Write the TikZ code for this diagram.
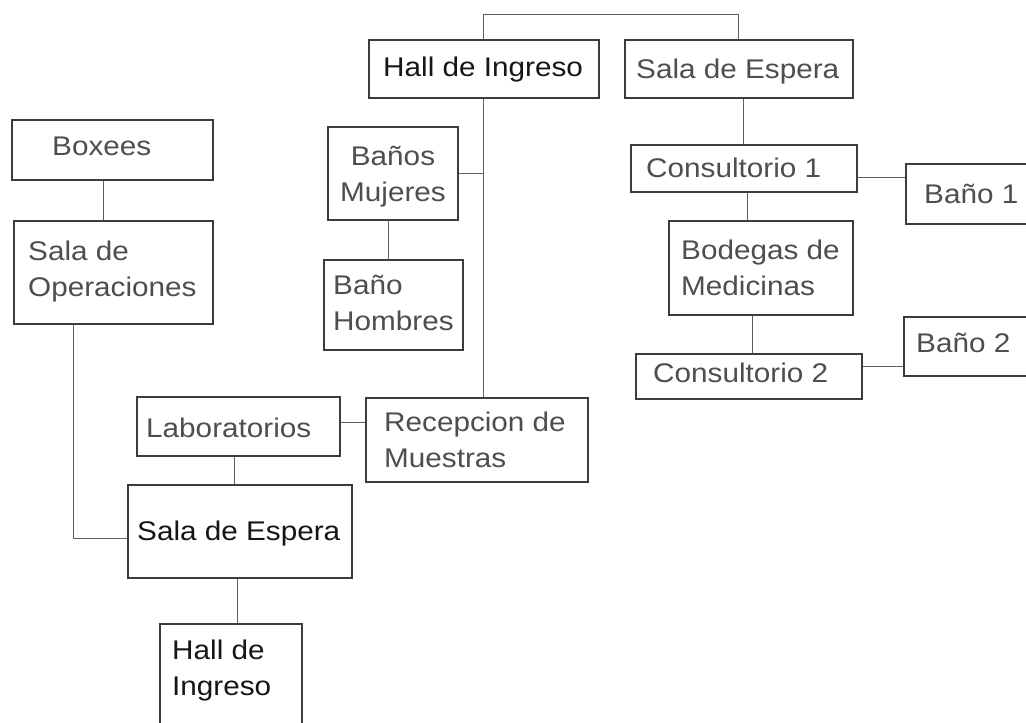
\documentclass[tikz,border=0pt]{standalone}
\usepackage{fontspec}
\newfontfamily\lsans{Liberation Sans}[FakeStretch=1.1]
\definecolor{boxline}{HTML}{3C3C3C}
\definecolor{connline}{HTML}{5E5E5E}
\definecolor{txtgray}{HTML}{4E4E4E}
\definecolor{txtblack}{HTML}{161616}
\newcommand{\twoleft}[2]{\vtop{\baselineskip=36pt\hbox{#1}\hbox{#2}}}
\newcommand{\twocent}[2]{\vtop{\baselineskip=36pt\halign{\hfil##\hfil\cr #1\cr #2\cr}}}
\tikzset{
  box/.style={draw=boxline, line width=1.6pt, rectangle, inner sep=0pt, anchor=north west},
  conn/.style={draw=connline, line width=0.9pt},
  txt/.style={inner sep=0pt, anchor=base west, text=txtgray, font=\lsans\fontsize{27}{36}\selectfont},
  txtb/.style={txt, text=txtblack},
}
\begin{document}
\begin{tikzpicture}[x=1pt,y=-1pt]
\useasboundingbox (0,0) rectangle (1026,723);
\clip (0,0) rectangle (1026,723);
\fill[white] (0,0) rectangle (1026,723);
% boxes
\node[box, minimum width=230pt, minimum height=58pt] (hallA) at (368,39) {};
\node[box, minimum width=228pt, minimum height=58pt] (salaA) at (624,39) {};
\node[box, minimum width=201pt, minimum height=60pt] (boxees) at (11,119) {};
\node[box, minimum width=199pt, minimum height=103pt] (salaOp) at (13,220) {};
\node[box, minimum width=130pt, minimum height=93pt] (muj) at (327,126) {};
\node[box, minimum width=139pt, minimum height=90pt] (hom) at (323,259) {};
\node[box, minimum width=226pt, minimum height=47pt] (cons1) at (630,144) {};
\node[box, minimum width=135pt, minimum height=60pt] (b1) at (905,163) {};
\node[box, minimum width=184pt, minimum height=94pt] (bod) at (668,220) {};
\node[box, minimum width=226pt, minimum height=45pt] (cons2) at (635,353) {};
\node[box, minimum width=137pt, minimum height=59pt] (b2) at (903,316) {};
\node[box, minimum width=203pt, minimum height=59pt] (lab) at (136,396) {};
\node[box, minimum width=222pt, minimum height=84pt] (recep) at (365,397) {};
\node[box, minimum width=224pt, minimum height=93pt] (salaB) at (127,484) {};
\node[box, minimum width=142pt, minimum height=122pt] (hallB) at (159,623) {};
% texts
\node[txtb] (tHallA) at (383,76) {Hall de Ingreso};
\node[txt] (tSalaA) at (636,78) {Sala de Espera};
\node[txt] (tBoxees) at (52,155) {Boxees};
\node[txt] (tSalaOp) at (28,260) {\twoleft{Sala de}{Operaciones}};
\node[txt] (tMuj) at (340,165) {\twocent{Baños}{Mujeres}};
\node[txt] (tHom) at (333,294) {\twoleft{Baño}{Hombres}};
\node[txt] (tCons1) at (646,177) {Consultorio 1};
\node[txt] (tB1) at (924,203) {Baño 1};
\node[txt] (tBod) at (681,259) {\twoleft{Bodegas de}{Medicinas}};
\node[txt] (tCons2) at (653,382) {Consultorio 2};
\node[txt] (tB2) at (916,352) {Baño 2};
\node[txt] (tLab) at (146,437) {Laboratorios};
\node[txt] (tRecep) at (384,431) {\twoleft{Recepcion de}{Muestras}};
\node[txtb] (tSalaB) at (137,540) {Sala de Espera};
\node[txtb] (tHallB) at (172,659) {\twoleft{Hall de}{Ingreso}};
% connectors
\draw[conn] (hallA.north) -- ++(0,-25) -| (salaA.north);
\draw[conn] (hallA.south) -- (hallA.south |- recep.north);
\draw[conn] (muj.east) -- (muj.east -| hallA.south);
\draw[conn] ([xshift=-4pt]muj.south) -- ([xshift=-4pt]muj.south |- hom.north);
\draw[conn] ([yshift=3.5pt]lab.east) -- ([yshift=3.5pt]lab.east -| recep.west);
\draw[conn] ([xshift=-3.5pt]lab.south) -- ([xshift=-3.5pt]lab.south |- salaB.north);
\draw[conn] ([xshift=-2pt]salaB.south) -- ([xshift=-2pt]salaB.south |- hallB.north);
\draw[conn] ([xshift=-8.5pt]boxees.south) -- ([xshift=-8.5pt]boxees.south |- salaOp.north);
\draw[conn] ([xshift=-39.5pt]salaOp.south) |- ([yshift=-7.5pt]salaB.west);
\draw[conn] (cons1.north |- salaA.south) -- (cons1.north);
\draw[conn] ([yshift=-9.5pt]cons1.east) -- ([yshift=-9.5pt]cons1.east -| b1.west);
\draw[conn] ([xshift=4pt]cons1.south) -- ([xshift=4pt]cons1.south |- bod.north);
\draw[conn] ([xshift=4pt]cons2.north |- bod.south) -- ([xshift=4pt]cons2.north);
\draw[conn] ([yshift=9.5pt]cons2.east) -- ([yshift=9.5pt]cons2.east -| b2.west);
\end{tikzpicture}
\end{document}
